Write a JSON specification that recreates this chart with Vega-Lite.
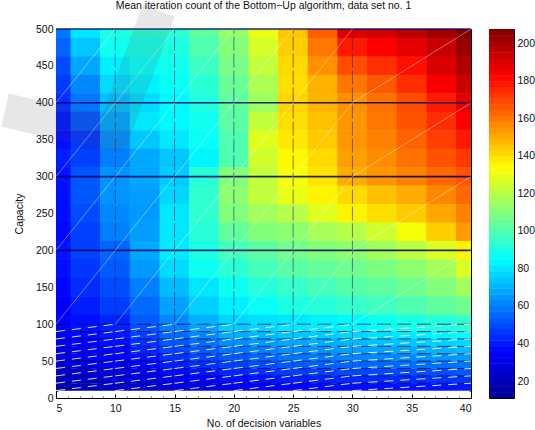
{"$schema":"https://vega.github.io/schema/vega-lite/v6.json","padding":{"left":-13,"top":-7,"right":0,"bottom":0},"background":"white","config":{"font":"Liberation Sans","view":{"stroke":"black","strokeWidth":1},"axis":{"labelFont":"Liberation Sans","titleFont":"Liberation Sans","labelFontSize":10.5,"titleFontSize":10.5,"titleFontWeight":"normal","labelColor":"#111","titleColor":"#111","grid":false,"domain":false,"tickColor":"black"}},
"datasets":{"hi":[
{"x":5,"y":500,"v":58},{"x":7.5,"y":500,"v":80},{"x":10,"y":500,"v":90},{"x":12.5,"y":500,"v":92},{"x":15,"y":500,"v":93},{"x":17.5,"y":500,"v":103},{"x":20,"y":500,"v":113},{"x":22.5,"y":500,"v":130},{"x":25,"y":500,"v":145},{"x":27.5,"y":500,"v":165},{"x":30,"y":500,"v":190},{"x":32.5,"y":500,"v":192},{"x":35,"y":500,"v":196},{"x":37.5,"y":500,"v":201},{"x":40,"y":500,"v":207},
{"x":5,"y":475,"v":55},{"x":7.5,"y":475,"v":74},{"x":10,"y":475,"v":88},{"x":12.5,"y":475,"v":89},{"x":15,"y":475,"v":90},{"x":17.5,"y":475,"v":100},{"x":20,"y":475,"v":110},{"x":22.5,"y":475,"v":126},{"x":25,"y":475,"v":143},{"x":27.5,"y":475,"v":160},{"x":30,"y":475,"v":178},{"x":32.5,"y":475,"v":183},{"x":35,"y":475,"v":188},{"x":37.5,"y":475,"v":194},{"x":40,"y":475,"v":203},
{"x":5,"y":450,"v":50},{"x":7.5,"y":450,"v":68},{"x":10,"y":450,"v":82},{"x":12.5,"y":450,"v":86},{"x":15,"y":450,"v":88},{"x":17.5,"y":450,"v":96},{"x":20,"y":450,"v":108},{"x":22.5,"y":450,"v":122},{"x":25,"y":450,"v":141},{"x":27.5,"y":450,"v":155},{"x":30,"y":450,"v":168},{"x":32.5,"y":450,"v":174},{"x":35,"y":450,"v":180},{"x":37.5,"y":450,"v":190},{"x":40,"y":450,"v":198},
{"x":5,"y":425,"v":47},{"x":7.5,"y":425,"v":62},{"x":10,"y":425,"v":78},{"x":12.5,"y":425,"v":82},{"x":15,"y":425,"v":86},{"x":17.5,"y":425,"v":93},{"x":20,"y":425,"v":105},{"x":22.5,"y":425,"v":118},{"x":25,"y":425,"v":140},{"x":27.5,"y":425,"v":149},{"x":30,"y":425,"v":160},{"x":32.5,"y":425,"v":166},{"x":35,"y":425,"v":174},{"x":37.5,"y":425,"v":184},{"x":40,"y":425,"v":193},
{"x":5,"y":400,"v":44},{"x":7.5,"y":400,"v":58},{"x":10,"y":400,"v":73},{"x":12.5,"y":400,"v":78},{"x":15,"y":400,"v":84},{"x":17.5,"y":400,"v":91},{"x":20,"y":400,"v":103},{"x":22.5,"y":400,"v":115},{"x":25,"y":400,"v":142},{"x":27.5,"y":400,"v":148},{"x":30,"y":400,"v":155},{"x":32.5,"y":400,"v":161},{"x":35,"y":400,"v":168},{"x":37.5,"y":400,"v":178},{"x":40,"y":400,"v":188},
{"x":5,"y":375,"v":40},{"x":7.5,"y":375,"v":52},{"x":10,"y":375,"v":68},{"x":12.5,"y":375,"v":80},{"x":15,"y":375,"v":84},{"x":17.5,"y":375,"v":88},{"x":20,"y":375,"v":102},{"x":22.5,"y":375,"v":122},{"x":25,"y":375,"v":140},{"x":27.5,"y":375,"v":146},{"x":30,"y":375,"v":154},{"x":32.5,"y":375,"v":160},{"x":35,"y":375,"v":167},{"x":37.5,"y":375,"v":174},{"x":40,"y":375,"v":183},
{"x":5,"y":350,"v":38},{"x":7.5,"y":350,"v":46},{"x":10,"y":350,"v":63},{"x":12.5,"y":350,"v":74},{"x":15,"y":350,"v":80},{"x":17.5,"y":350,"v":86},{"x":20,"y":350,"v":100},{"x":22.5,"y":350,"v":128},{"x":25,"y":350,"v":138},{"x":27.5,"y":350,"v":144},{"x":30,"y":350,"v":154},{"x":32.5,"y":350,"v":158},{"x":35,"y":350,"v":164},{"x":37.5,"y":350,"v":171},{"x":40,"y":350,"v":178},
{"x":5,"y":325,"v":41},{"x":7.5,"y":325,"v":48},{"x":10,"y":325,"v":60},{"x":12.5,"y":325,"v":68},{"x":15,"y":325,"v":74},{"x":17.5,"y":325,"v":83},{"x":20,"y":325,"v":100},{"x":22.5,"y":325,"v":125},{"x":25,"y":325,"v":135},{"x":27.5,"y":325,"v":141},{"x":30,"y":325,"v":152},{"x":32.5,"y":325,"v":156},{"x":35,"y":325,"v":161},{"x":37.5,"y":325,"v":167},{"x":40,"y":325,"v":172},
{"x":5,"y":300,"v":39},{"x":7.5,"y":300,"v":52},{"x":10,"y":300,"v":64},{"x":12.5,"y":300,"v":68},{"x":15,"y":300,"v":75},{"x":17.5,"y":300,"v":92},{"x":20,"y":300,"v":110},{"x":22.5,"y":300,"v":122},{"x":25,"y":300,"v":132},{"x":27.5,"y":300,"v":139},{"x":30,"y":300,"v":150},{"x":32.5,"y":300,"v":154},{"x":35,"y":300,"v":158},{"x":37.5,"y":300,"v":163},{"x":40,"y":300,"v":167},
{"x":5,"y":275,"v":38},{"x":7.5,"y":275,"v":52},{"x":10,"y":275,"v":64},{"x":12.5,"y":275,"v":66},{"x":15,"y":275,"v":77},{"x":17.5,"y":275,"v":94},{"x":20,"y":275,"v":112},{"x":22.5,"y":275,"v":122},{"x":25,"y":275,"v":130},{"x":27.5,"y":275,"v":136},{"x":30,"y":275,"v":141},{"x":32.5,"y":275,"v":146},{"x":35,"y":275,"v":150},{"x":37.5,"y":275,"v":157},{"x":40,"y":275,"v":163},
{"x":5,"y":250,"v":38},{"x":7.5,"y":250,"v":50},{"x":10,"y":250,"v":62},{"x":12.5,"y":250,"v":65},{"x":15,"y":250,"v":80},{"x":17.5,"y":250,"v":94},{"x":20,"y":250,"v":110},{"x":22.5,"y":250,"v":116},{"x":25,"y":250,"v":120},{"x":27.5,"y":250,"v":128},{"x":30,"y":250,"v":136},{"x":32.5,"y":250,"v":140},{"x":35,"y":250,"v":144},{"x":37.5,"y":250,"v":151},{"x":40,"y":250,"v":158},
{"x":5,"y":225,"v":37},{"x":7.5,"y":225,"v":48},{"x":10,"y":225,"v":60},{"x":12.5,"y":225,"v":66},{"x":15,"y":225,"v":80},{"x":17.5,"y":225,"v":92},{"x":20,"y":225,"v":104},{"x":22.5,"y":225,"v":110},{"x":25,"y":225,"v":112},{"x":27.5,"y":225,"v":117},{"x":30,"y":225,"v":120},{"x":32.5,"y":225,"v":125},{"x":35,"y":225,"v":132},{"x":37.5,"y":225,"v":143},{"x":40,"y":225,"v":153},
{"x":5,"y":200,"v":39},{"x":7.5,"y":200,"v":48},{"x":10,"y":200,"v":55},{"x":12.5,"y":200,"v":68},{"x":15,"y":200,"v":81},{"x":17.5,"y":200,"v":90},{"x":20,"y":200,"v":98},{"x":22.5,"y":200,"v":103},{"x":25,"y":200,"v":107},{"x":27.5,"y":200,"v":110},{"x":30,"y":200,"v":112},{"x":32.5,"y":200,"v":116},{"x":35,"y":200,"v":121},{"x":37.5,"y":200,"v":127},{"x":40,"y":200,"v":136},
{"x":5,"y":175,"v":38},{"x":7.5,"y":175,"v":46},{"x":10,"y":175,"v":53},{"x":12.5,"y":175,"v":65},{"x":15,"y":175,"v":78},{"x":17.5,"y":175,"v":87},{"x":20,"y":175,"v":93},{"x":22.5,"y":175,"v":98},{"x":25,"y":175,"v":102},{"x":27.5,"y":175,"v":104},{"x":30,"y":175,"v":106},{"x":32.5,"y":175,"v":109},{"x":35,"y":175,"v":112},{"x":37.5,"y":175,"v":116},{"x":40,"y":175,"v":127},
{"x":5,"y":150,"v":36},{"x":7.5,"y":150,"v":44},{"x":10,"y":150,"v":50},{"x":12.5,"y":150,"v":60},{"x":15,"y":150,"v":72},{"x":17.5,"y":150,"v":80},{"x":20,"y":150,"v":87},{"x":22.5,"y":150,"v":92},{"x":25,"y":150,"v":95},{"x":27.5,"y":150,"v":98},{"x":30,"y":150,"v":101},{"x":32.5,"y":150,"v":103},{"x":35,"y":150,"v":106},{"x":37.5,"y":150,"v":110},{"x":40,"y":150,"v":116},
{"x":5,"y":125,"v":34},{"x":7.5,"y":125,"v":41},{"x":10,"y":125,"v":47},{"x":12.5,"y":125,"v":56},{"x":15,"y":125,"v":67},{"x":17.5,"y":125,"v":76},{"x":20,"y":125,"v":82},{"x":22.5,"y":125,"v":86},{"x":25,"y":125,"v":90},{"x":27.5,"y":125,"v":92},{"x":30,"y":125,"v":95},{"x":32.5,"y":125,"v":97},{"x":35,"y":125,"v":100},{"x":37.5,"y":125,"v":103},{"x":40,"y":125,"v":106},
{"x":5,"y":100,"v":36},{"x":7.5,"y":100,"v":38},{"x":10,"y":100,"v":42},{"x":12.5,"y":100,"v":53},{"x":15,"y":100,"v":62},{"x":17.5,"y":100,"v":70},{"x":20,"y":100,"v":77},{"x":22.5,"y":100,"v":79},{"x":25,"y":100,"v":80},{"x":27.5,"y":100,"v":82},{"x":30,"y":100,"v":84},{"x":32.5,"y":100,"v":87},{"x":35,"y":100,"v":90},{"x":37.5,"y":100,"v":92},{"x":40,"y":100,"v":95}
],"lo":[
{"x":5,"y":95,"v":36},{"x":7.5,"y":95,"v":39},{"x":10,"y":95,"v":42},{"x":12.5,"y":95,"v":51},{"x":15,"y":95,"v":60},{"x":17.5,"y":95,"v":67},{"x":20,"y":95,"v":75},{"x":22.5,"y":95,"v":77},{"x":25,"y":95,"v":80},{"x":27.5,"y":95,"v":81},{"x":30,"y":95,"v":83},{"x":32.5,"y":95,"v":86},{"x":35,"y":95,"v":88},{"x":37.5,"y":95,"v":90},{"x":40,"y":95,"v":93},
{"x":5,"y":85,"v":34},{"x":7.5,"y":85,"v":37},{"x":10,"y":85,"v":40},{"x":12.5,"y":85,"v":48},{"x":15,"y":85,"v":56},{"x":17.5,"y":85,"v":62},{"x":20,"y":85,"v":69},{"x":22.5,"y":85,"v":71},{"x":25,"y":85,"v":74},{"x":27.5,"y":85,"v":75},{"x":30,"y":85,"v":77},{"x":32.5,"y":85,"v":79},{"x":35,"y":85,"v":81},{"x":37.5,"y":85,"v":83},{"x":40,"y":85,"v":85},
{"x":5,"y":75,"v":33},{"x":7.5,"y":75,"v":35},{"x":10,"y":75,"v":38},{"x":12.5,"y":75,"v":45},{"x":15,"y":75,"v":52},{"x":17.5,"y":75,"v":57},{"x":20,"y":75,"v":63},{"x":22.5,"y":75,"v":65},{"x":25,"y":75,"v":68},{"x":27.5,"y":75,"v":69},{"x":30,"y":75,"v":71},{"x":32.5,"y":75,"v":73},{"x":35,"y":75,"v":74},{"x":37.5,"y":75,"v":76},{"x":40,"y":75,"v":78},
{"x":5,"y":65,"v":31},{"x":7.5,"y":65,"v":33},{"x":10,"y":65,"v":36},{"x":12.5,"y":65,"v":42},{"x":15,"y":65,"v":49},{"x":17.5,"y":65,"v":53},{"x":20,"y":65,"v":58},{"x":22.5,"y":65,"v":60},{"x":25,"y":65,"v":63},{"x":27.5,"y":65,"v":64},{"x":30,"y":65,"v":66},{"x":32.5,"y":65,"v":67},{"x":35,"y":65,"v":68},{"x":37.5,"y":65,"v":70},{"x":40,"y":65,"v":72},
{"x":5,"y":55,"v":29},{"x":7.5,"y":55,"v":31},{"x":10,"y":55,"v":34},{"x":12.5,"y":55,"v":39},{"x":15,"y":55,"v":45},{"x":17.5,"y":55,"v":49},{"x":20,"y":55,"v":53},{"x":22.5,"y":55,"v":55},{"x":25,"y":55,"v":58},{"x":27.5,"y":55,"v":59},{"x":30,"y":55,"v":61},{"x":32.5,"y":55,"v":62},{"x":35,"y":55,"v":63},{"x":37.5,"y":55,"v":64},{"x":40,"y":55,"v":66},
{"x":5,"y":45,"v":27},{"x":7.5,"y":45,"v":29},{"x":10,"y":45,"v":32},{"x":12.5,"y":45,"v":36},{"x":15,"y":45,"v":41},{"x":17.5,"y":45,"v":44},{"x":20,"y":45,"v":48},{"x":22.5,"y":45,"v":50},{"x":25,"y":45,"v":53},{"x":27.5,"y":45,"v":54},{"x":30,"y":45,"v":55},{"x":32.5,"y":45,"v":56},{"x":35,"y":45,"v":57},{"x":37.5,"y":45,"v":57},{"x":40,"y":45,"v":58},
{"x":5,"y":35,"v":24},{"x":7.5,"y":35,"v":26},{"x":10,"y":35,"v":29},{"x":12.5,"y":35,"v":33},{"x":15,"y":35,"v":37},{"x":17.5,"y":35,"v":40},{"x":20,"y":35,"v":43},{"x":22.5,"y":35,"v":45},{"x":25,"y":35,"v":47},{"x":27.5,"y":35,"v":48},{"x":30,"y":35,"v":49},{"x":32.5,"y":35,"v":50},{"x":35,"y":35,"v":50},{"x":37.5,"y":35,"v":51},{"x":40,"y":35,"v":52},
{"x":5,"y":25,"v":21},{"x":7.5,"y":25,"v":23},{"x":10,"y":25,"v":26},{"x":12.5,"y":25,"v":29},{"x":15,"y":25,"v":33},{"x":17.5,"y":25,"v":35},{"x":20,"y":25,"v":38},{"x":22.5,"y":25,"v":39},{"x":25,"y":25,"v":41},{"x":27.5,"y":25,"v":42},{"x":30,"y":25,"v":43},{"x":32.5,"y":25,"v":44},{"x":35,"y":25,"v":44},{"x":37.5,"y":25,"v":45},{"x":40,"y":25,"v":46},
{"x":5,"y":15,"v":18},{"x":7.5,"y":15,"v":20},{"x":10,"y":15,"v":23},{"x":12.5,"y":15,"v":25},{"x":15,"y":15,"v":28},{"x":17.5,"y":15,"v":30},{"x":20,"y":15,"v":33},{"x":22.5,"y":15,"v":34},{"x":25,"y":15,"v":36},{"x":27.5,"y":15,"v":37},{"x":30,"y":15,"v":38},{"x":32.5,"y":15,"v":38},{"x":35,"y":15,"v":39},{"x":37.5,"y":15,"v":39},{"x":40,"y":15,"v":40}
],"diagHi":[
{"x":5,"x2":10,"y":100,"y2":200},{"x":10,"x2":15,"y":100,"y2":200},{"x":15,"x2":20,"y":100,"y2":200},{"x":20,"x2":25,"y":100,"y2":200},{"x":25,"x2":30,"y":100,"y2":200},{"x":30,"x2":40,"y":100,"y2":200},
{"x":5,"x2":10,"y":200,"y2":300},{"x":10,"x2":15,"y":200,"y2":300},{"x":15,"x2":20,"y":200,"y2":300},{"x":20,"x2":25,"y":200,"y2":300},{"x":25,"x2":30,"y":200,"y2":300},{"x":30,"x2":40,"y":200,"y2":300},
{"x":5,"x2":10,"y":300,"y2":400},{"x":10,"x2":15,"y":300,"y2":400},{"x":15,"x2":20,"y":300,"y2":400},{"x":20,"x2":25,"y":300,"y2":400},{"x":25,"x2":30,"y":300,"y2":400},{"x":30,"x2":40,"y":300,"y2":400},
{"x":5,"x2":10,"y":400,"y2":500},{"x":10,"x2":15,"y":400,"y2":500},{"x":15,"x2":20,"y":400,"y2":500},{"x":20,"x2":25,"y":400,"y2":500},{"x":25,"x2":30,"y":400,"y2":500},{"x":30,"x2":40,"y":400,"y2":500}
],"diagLo":[
{"x":5,"x2":10,"y":10,"y2":20},{"x":10,"x2":15,"y":10,"y2":20},{"x":15,"x2":20,"y":10,"y2":20},{"x":20,"x2":25,"y":10,"y2":20},{"x":25,"x2":30,"y":10,"y2":20},{"x":30,"x2":40,"y":10,"y2":20},
{"x":5,"x2":10,"y":20,"y2":30},{"x":10,"x2":15,"y":20,"y2":30},{"x":15,"x2":20,"y":20,"y2":30},{"x":20,"x2":25,"y":20,"y2":30},{"x":25,"x2":30,"y":20,"y2":30},{"x":30,"x2":40,"y":20,"y2":30},
{"x":5,"x2":10,"y":30,"y2":40},{"x":10,"x2":15,"y":30,"y2":40},{"x":15,"x2":20,"y":30,"y2":40},{"x":20,"x2":25,"y":30,"y2":40},{"x":25,"x2":30,"y":30,"y2":40},{"x":30,"x2":40,"y":30,"y2":40},
{"x":5,"x2":10,"y":40,"y2":50},{"x":10,"x2":15,"y":40,"y2":50},{"x":15,"x2":20,"y":40,"y2":50},{"x":20,"x2":25,"y":40,"y2":50},{"x":25,"x2":30,"y":40,"y2":50},{"x":30,"x2":40,"y":40,"y2":50},
{"x":5,"x2":10,"y":50,"y2":60},{"x":10,"x2":15,"y":50,"y2":60},{"x":15,"x2":20,"y":50,"y2":60},{"x":20,"x2":25,"y":50,"y2":60},{"x":25,"x2":30,"y":50,"y2":60},{"x":30,"x2":40,"y":50,"y2":60},
{"x":5,"x2":10,"y":60,"y2":70},{"x":10,"x2":15,"y":60,"y2":70},{"x":15,"x2":20,"y":60,"y2":70},{"x":20,"x2":25,"y":60,"y2":70},{"x":25,"x2":30,"y":60,"y2":70},{"x":30,"x2":40,"y":60,"y2":70},
{"x":5,"x2":10,"y":70,"y2":80},{"x":10,"x2":15,"y":70,"y2":80},{"x":15,"x2":20,"y":70,"y2":80},{"x":20,"x2":25,"y":70,"y2":80},{"x":25,"x2":30,"y":70,"y2":80},{"x":30,"x2":40,"y":70,"y2":80},
{"x":5,"x2":10,"y":80,"y2":90},{"x":10,"x2":15,"y":80,"y2":90},{"x":15,"x2":20,"y":80,"y2":90},{"x":20,"x2":25,"y":80,"y2":90},{"x":25,"x2":30,"y":80,"y2":90},{"x":30,"x2":40,"y":80,"y2":90},
{"x":5,"x2":10,"y":90,"y2":100},{"x":10,"x2":15,"y":90,"y2":100},{"x":15,"x2":20,"y":90,"y2":100},{"x":20,"x2":25,"y":90,"y2":100},{"x":25,"x2":30,"y":90,"y2":100},{"x":30,"x2":40,"y":90,"y2":100}
],"wm":[{"o":1,"x":13.65,"y":525},{"o":2,"x":9.8,"y":357},{"o":3,"x":0.7,"y":390}],
"bar":[{"v":12.5},{"v":15.6},{"v":18.6},{"v":21.7},{"v":24.8},{"v":27.8},{"v":30.9},{"v":34},{"v":37},{"v":40.1},{"v":43.2},{"v":46.2},{"v":49.3},{"v":52.4},{"v":55.4},{"v":58.5},{"v":61.6},{"v":64.6},{"v":67.7},{"v":70.8},{"v":73.8},{"v":76.9},{"v":80},{"v":83},{"v":86.1},{"v":89.2},{"v":92.2},{"v":95.3},{"v":98.4},{"v":101.4},{"v":104.5},{"v":107.6},{"v":110.6},{"v":113.7},{"v":116.8},{"v":119.8},{"v":122.9},{"v":126},{"v":129},{"v":132.1},{"v":135.2},{"v":138.2},{"v":141.3},{"v":144.4},{"v":147.4},{"v":150.5},{"v":153.6},{"v":156.6},{"v":159.7},{"v":162.8},{"v":165.8},{"v":168.9},{"v":172},{"v":175},{"v":178.1},{"v":181.2},{"v":184.2},{"v":187.3},{"v":190.4},{"v":193.4},{"v":196.5},{"v":199.6},{"v":202.6},{"v":205.7}]},
"spacing":15,
"hconcat":[
{"width":415,"height":369,
"title":{"text":"Mean iteration count of the Bottom−Up algorithm, data set no. 1","fontSize":10.5,"fontWeight":"normal","font":"Liberation Sans","color":"#111","offset":-18},
"resolve":{"axis":{"x":"independent","y":"independent"}},
"layer":[
{"data":{"name":"hi"},"mark":{"type":"rect","width":30.2,"height":19,"clip":true},
"encoding":{"x":{"field":"x","type":"quantitative","scale":{"domain":[5,40],"nice":false,"zero":false},"axis":{"orient":"bottom","values":[5,10,15,20,25,30,35,40],"title":"No. of decision variables","tickSize":-4,"labelPadding":9,"titlePadding":5}},
"y":{"field":"y","type":"quantitative","scale":{"domain":[0,500],"nice":false,"zero":false},"axis":{"orient":"left","values":[0,50,100,150,200,250,300,350,400,450,500],"title":"Capacity","tickSize":-4,"labelPadding":7,"titlePadding":11}},
"color":{"field":"v","type":"quantitative","legend":null,"scale":{"domain":[11,35.5,84.7,133.8,182.9,207.5],"range":["#00008f","#0000ff","#00ffff","#ffff00","#ff0000","#800000"],"interpolate":"rgb"}}}},
{"data":{"name":"lo"},"mark":{"type":"rect","width":30.2,"height":7.6,"clip":true},
"encoding":{"x":{"field":"x","type":"quantitative","scale":{"domain":[5,40],"nice":false,"zero":false},"axis":null},
"y":{"field":"y","type":"quantitative","scale":{"domain":[0,500],"nice":false,"zero":false},"axis":null},
"color":{"field":"v","type":"quantitative","legend":null,"scale":{"domain":[11,35.5,84.7,133.8,182.9,207.5],"range":["#00008f","#0000ff","#00ffff","#ffff00","#ff0000","#800000"],"interpolate":"rgb"}}}},
{"data":{"values":[{"y":100},{"y":90},{"y":80},{"y":70},{"y":60},{"y":50},{"y":40},{"y":30},{"y":20}]},"mark":{"type":"rule","color":"#000050","strokeWidth":1,"strokeDash":[14,6],"opacity":0.7},
"encoding":{"y":{"field":"y","type":"quantitative","scale":{"domain":[0,500],"nice":false,"zero":false},"axis":null}}},
{"data":{"values":[{"y":200},{"y":300},{"y":400},{"y":500}]},"mark":{"type":"rule","color":"#000060","strokeWidth":1.6,"opacity":0.85},
"encoding":{"y":{"field":"y","type":"quantitative","scale":{"domain":[0,500],"nice":false,"zero":false},"axis":null}}},
{"data":{"values":[{"x":10},{"x":15},{"x":20},{"x":25},{"x":30}]},"mark":{"type":"rule","color":"#2a2a70","strokeWidth":1,"strokeDash":[14,3],"opacity":0.6},
"encoding":{"x":{"field":"x","type":"quantitative","scale":{"domain":[5,40],"nice":false,"zero":false},"axis":null},"y":{"datum":10,"scale":{"domain":[0,500],"nice":false,"zero":false},"axis":null},"y2":{"datum":500}}},
{"data":{"name":"diagHi"},"mark":{"type":"line","opacity":0},
"encoding":{"x":{"field":"x","type":"quantitative","scale":{"domain":[5,40],"nice":false,"zero":false},"axis":{"orient":"top","values":[5,10,15,20,25,30,35,40],"labels":false,"title":null,"tickSize":-4}},
"y":{"field":"y","type":"quantitative","scale":{"domain":[0,500],"nice":false,"zero":false},"axis":{"orient":"right","values":[0,50,100,150,200,250,300,350,400,450,500],"labels":false,"title":null,"tickSize":-4}}}},
{"data":{"name":"diagHi"},"mark":{"type":"line","opacity":0},
"encoding":{"x":{"field":"x","type":"quantitative","scale":{"domain":[5,40],"nice":false,"zero":false},"axis":{"orient":"bottom","values":[5,6,7,8,9,10,11,12,13,14,15,16,17,18,19,20,21,22,23,24,25,26,27,28,29,30,31,32,33,34,35,36,37,38,39,40],"labels":false,"title":null,"tickSize":-2,"tickWidth":0.6}},
"y":{"field":"y","type":"quantitative","scale":{"domain":[0,500],"nice":false,"zero":false},"axis":{"orient":"left","values":[0,10,20,30,40,50,60,70,80,90,100,110,120,130,140,150,160,170,180,190,200,210,220,230,240,250,260,270,280,290,300,310,320,330,340,350,360,370,380,390,400,410,420,430,440,450,460,470,480,490,500],"labels":false,"title":null,"tickSize":-2,"tickWidth":0.6}}}},
{"data":{"name":"diagHi"},"mark":{"type":"line","opacity":0},
"encoding":{"x":{"field":"x","type":"quantitative","scale":{"domain":[5,40],"nice":false,"zero":false},"axis":{"orient":"top","values":[5,6,7,8,9,10,11,12,13,14,15,16,17,18,19,20,21,22,23,24,25,26,27,28,29,30,31,32,33,34,35,36,37,38,39,40],"labels":false,"title":null,"tickSize":-2,"tickWidth":0.6}},
"y":{"field":"y","type":"quantitative","scale":{"domain":[0,500],"nice":false,"zero":false},"axis":{"orient":"right","values":[0,10,20,30,40,50,60,70,80,90,100,110,120,130,140,150,160,170,180,190,200,210,220,230,240,250,260,270,280,290,300,310,320,330,340,350,360,370,380,390,400,410,420,430,440,450,460,470,480,490,500],"labels":false,"title":null,"tickSize":-2,"tickWidth":0.6}}}},
{"data":{"name":"diagHi"},"mark":{"type":"rule","color":"white","strokeWidth":0.6,"opacity":0.65},
"encoding":{"x":{"field":"x","type":"quantitative","scale":{"domain":[5,40],"nice":false,"zero":false},"axis":null},"x2":{"field":"x2"},"y":{"field":"y","type":"quantitative","scale":{"domain":[0,500],"nice":false,"zero":false},"axis":null},"y2":{"field":"y2"}}},
{"data":{"name":"diagLo"},"mark":{"type":"rule","color":"white","strokeWidth":1,"strokeDash":[9,7],"opacity":0.85},
"encoding":{"x":{"field":"x","type":"quantitative","scale":{"domain":[5,40],"nice":false,"zero":false},"axis":null},"x2":{"field":"x2"},"y":{"field":"y","type":"quantitative","scale":{"domain":[0,500],"nice":false,"zero":false},"axis":null},"y2":{"field":"y2"}}},
{"data":{"name":"wm"},"mark":{"type":"line","color":"#555555","strokeWidth":34,"opacity":0.14,"strokeJoin":"round","clip":false},
"encoding":{"order":{"field":"o"},"x":{"field":"x","type":"quantitative","scale":{"domain":[5,40],"nice":false,"zero":false},"axis":null},"y":{"field":"y","type":"quantitative","scale":{"domain":[0,500],"nice":false,"zero":false},"axis":null}}}
]},
{"width":25,"height":369,"data":{"name":"bar"},"mark":{"type":"rect","height":6.2,"clip":true},
"encoding":{"x":{"value":0},"x2":{"value":25},
"y":{"field":"v","type":"quantitative","scale":{"domain":[11,207.5],"nice":false,"zero":false},"axis":{"orient":"right","values":[20,40,60,80,100,120,140,160,180,200],"title":null,"tickSize":-4,"labelPadding":7}},
"color":{"field":"v","type":"quantitative","legend":null,"scale":{"domain":[11,35.5,84.7,133.8,182.9,207.5],"range":["#00008f","#0000ff","#00ffff","#ffff00","#ff0000","#800000"],"interpolate":"rgb"}}}}
]}
